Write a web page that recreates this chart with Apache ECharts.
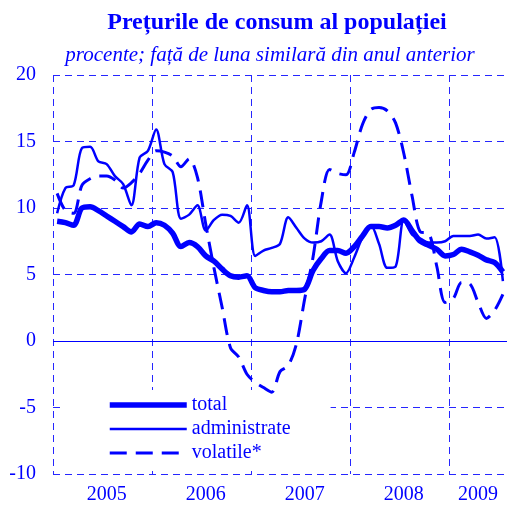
<!DOCTYPE html>
<html>
<head>
<meta charset="utf-8">
<title>Preturile de consum</title>
<script src="https://cdn.jsdelivr.net/npm/echarts@6/dist/echarts.min.js"></script>
<style>
  html, body { margin: 0; padding: 0; background: #fff; }
  #main { width: 507px; height: 507px; }
</style>
</head>
<body>
<div id="main"></div>
<script>
// luni: ian 2005 - iul 2009
var months = [
  '2005-01','2005-02','2005-03','2005-04','2005-05','2005-06','2005-07','2005-08','2005-09','2005-10','2005-11','2005-12',
  '2006-01','2006-02','2006-03','2006-04','2006-05','2006-06','2006-07','2006-08','2006-09','2006-10','2006-11','2006-12',
  '2007-01','2007-02','2007-03','2007-04','2007-05','2007-06','2007-07','2007-08','2007-09','2007-10','2007-11','2007-12',
  '2008-01','2008-02','2008-03','2008-04','2008-05','2008-06','2008-07','2008-08','2008-09','2008-10','2008-11','2008-12',
  '2009-01','2009-02','2009-03','2009-04','2009-05','2009-06','2009-07'
];
// etichete ani (pozitia din luni -> text)
var yearLabelIdx = [6, 18, 30, 42, 51];
var yearLabels   = ['2005', '2006', '2007', '2008', '2009'];

var total = [9.0, 8.9, 8.7, 10.0, 10.1, 9.8, 9.4, 9.0, 8.6, 8.2,
  8.8, 8.6, 8.9, 8.7, 8.1, 7.1, 7.4, 7.1, 6.4, 6.0,
  5.4, 4.9, 4.8, 4.9, 4.0, 3.8, 3.7, 3.7, 3.8, 3.8,
  3.9, 5.3, 6.2, 6.8, 6.8, 6.6, 7.1, 7.9, 8.6, 8.6,
  8.5, 8.7, 9.1, 8.3, 7.5, 7.2, 6.9, 6.4, 6.5, 6.9,
  6.7, 6.45, 6.1, 5.9, 5.2];
var administrate = [9.6, 11.5, 11.7, 14.5, 14.6, 13.5, 13.3, 12.4, 11.8, 10.2,
  13.8, 14.3, 15.9, 13.3, 12.7, 9.2, 9.5, 10.2, 8.3, 9.1,
  9.5, 9.4, 8.9, 10.2, 6.4, 6.8, 7.0, 7.3, 9.3, 8.5,
  7.7, 7.4, 7.5, 8.0, 6.0, 5.1, 6.3, 7.8, 8.7, 7.3,
  5.5, 5.6, 9.1, 8.0, 7.7, 7.4, 7.4, 7.5, 7.9, 7.9,
  7.9, 8.0, 7.7, 7.8, 4.5];
var volatile = [11.1, 9.8, 9.6, 11.7, 12.2, 12.4, 12.4, 12.1, 11.5, 11.9,
  12.6, 13.6, 14.3, 14.2, 13.9, 13.1, 13.7, 12.3, 8.8, 5.5,
  2.5, -0.5, -1.2, -2.5, -3.1, -3.5, -3.85, -2.3, -1.85, -0.2,
  3.2, 6.3, 10.5, 12.9, 12.6, 12.5, 14.2, 16.3, 17.4, 17.55,
  17.3, 16.4, 14.1, 10.9, 8.2, 8.1, 5.6, 2.9, 3.2, 4.4,
  4.3, 2.9, 1.7, 2.3, 3.5];

var BLUE = '#0000ff';
var GRID = '#2626ff';
var FONT = 'Liberation Serif';

var chart = echarts.init(document.getElementById('main'));
chart.setOption({
  animation: false,
  backgroundColor: '#fff',
  title: [
    { text: 'Prețurile de consum al populației', left: 272, top: 6, textAlign: 'center',
      textStyle: { color: BLUE, fontFamily: FONT, fontSize: 24, fontWeight: 'bold' } },
    { text: 'procente; față de luna similară din anul anterior', left: 265, top: 40, textAlign: 'center',
      textStyle: { color: BLUE, fontFamily: FONT, fontSize: 21, fontWeight: 'normal', fontStyle: 'italic' } }
  ],
  grid: { left: 53, top: 75, bottom: 33, right: -2, containLabel: false },
  legend: {
    orient: 'vertical', left: 62, top: 390, z: 1,
    padding: [5, 40, 4, 45],
    backgroundColor: '#fff',
    itemWidth: 77, itemHeight: 20, itemGap: 4,
    itemStyle: { opacity: 0 },
    lineStyle: { width: 'inherit' },
    textStyle: { color: BLUE, fontFamily: FONT, fontSize: 20 },
    data: ['total', 'administrate', 'volatile*']
  },
  xAxis: {
    type: 'category',
    data: months,
    boundaryGap: true,
    axisLine: { show: false },
    axisTick: { show: false },
    axisLabel: {
      interval: function (i) { return yearLabelIdx.indexOf(i) >= 0; },
      formatter: function (v, i) { var k = yearLabelIdx.indexOf(i); return k >= 0 ? yearLabels[k] : ''; },
      color: BLUE, fontFamily: FONT, fontSize: 20, margin: 11
    },
    splitLine: {
      show: true,
      interval: function (i) { return i % 12 === 0; },
      lineStyle: { color: GRID, type: [7, 5], width: 1 }
    }
  },
  yAxis: {
    type: 'value', min: -10, max: 20, interval: 5,
    axisLine: { show: false },
    axisTick: { show: false },
    axisLabel: { color: BLUE, fontFamily: FONT, fontSize: 20, margin: 17 },
    splitLine: { lineStyle: { color: GRID, type: [7, 5], width: 1 } }
  },
  series: [
    { name: 'total', type: 'line', data: total, smooth: 0.3, symbol: 'none',
      lineStyle: { color: BLUE, width: 5.5 }, itemStyle: { color: BLUE },
      markLine: { silent: true, symbol: ['none', 'none'], label: { show: false },
        lineStyle: { color: BLUE, type: 'solid', width: 1.2, opacity: 1 },
        data: [{ yAxis: 0, lineStyle: { color: BLUE } }] } },
    { name: 'administrate', type: 'line', data: administrate, smooth: 0.3, symbol: 'none',
      lineStyle: { color: BLUE, width: 2.5 }, itemStyle: { color: BLUE } },
    { name: 'volatile*', type: 'line', data: volatile, smooth: 0.3, symbol: 'none',
      lineStyle: { color: BLUE, width: 3, type: [17, 9] }, itemStyle: { color: BLUE } }
  ]
});
</script>
</body>
</html>
